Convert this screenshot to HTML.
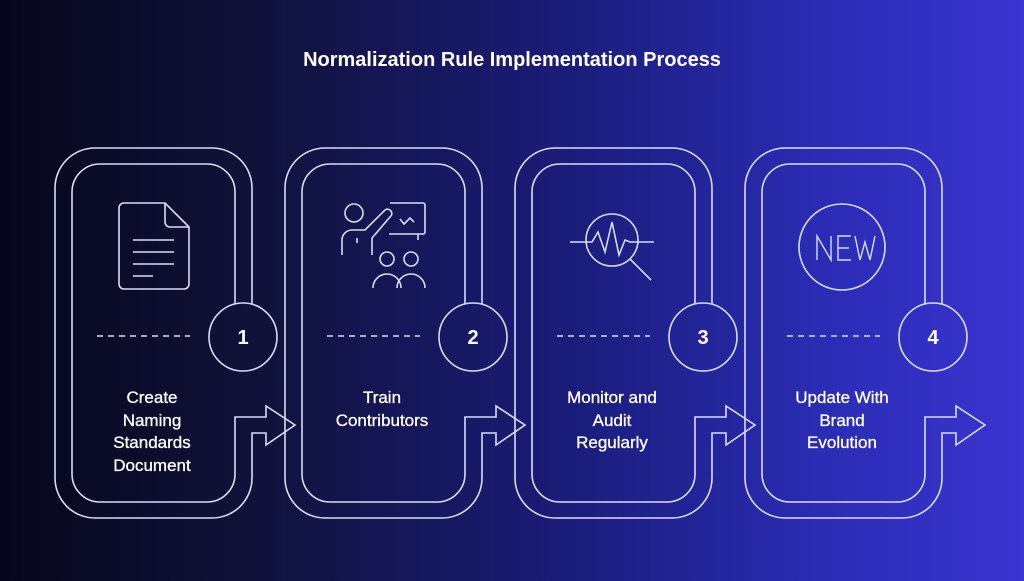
<!DOCTYPE html>
<html><head><meta charset="utf-8"><style>
html,body{margin:0;padding:0}
body{width:1024px;height:576px;overflow:hidden;background:linear-gradient(90deg,#06061a 0%,#10123a 25%,#1a1c78 55%,#2a2cb4 80%,#3a34d0 100%);font-family:"Liberation Sans",sans-serif}
</style></head><body>
<svg width="1024" height="576" viewBox="0 0 1024 576" xmlns="http://www.w3.org/2000/svg">
<defs>
<g id="card" fill="none" stroke="#d8dcf5" stroke-width="1.6">
<path d="M252,304 V188 A40,40 0 0 0 212,148 H95 A40,40 0 0 0 55,188 V478 A40,40 0 0 0 95,518 H212 A40,40 0 0 0 252,478 V433 H266 V445 L295,425 L266,406 V417 H235 V474 A28,28 0 0 1 207,502 H100 A28,28 0 0 1 72,474 V192 A28,28 0 0 1 100,164 H207 A28,28 0 0 1 235,192 V304"/>
<circle cx="243" cy="337" r="34"/>
<line x1="97" y1="336" x2="190" y2="336" stroke-dasharray="6,5" stroke-width="1.4"/>
</g>
</defs>
<text x="512" y="66" fill="#fff" font-size="20" font-weight="bold" text-anchor="middle">Normalization Rule Implementation Process</text>
<use href="#card"/>
<use href="#card" x="230"/>
<use href="#card" x="460"/>
<use href="#card" x="690"/>
<g fill="#fff" font-size="20" font-weight="bold" text-anchor="middle">
<text x="243" y="344">1</text><text x="473" y="344">2</text><text x="703" y="344">3</text><text x="933" y="344">4</text>
</g>
<g fill="#fff" font-size="17" text-anchor="middle" stroke="#fff" stroke-width="0.3">
<text x="152" y="403">Create</text><text x="152" y="426">Naming</text><text x="152" y="448">Standards</text><text x="152" y="471">Document</text>
<text x="382" y="403">Train</text><text x="382" y="426">Contributors</text>
<text x="612" y="403">Monitor and</text><text x="612" y="426">Audit</text><text x="612" y="448">Regularly</text>
<text x="842" y="403">Update With</text><text x="842" y="426">Brand</text><text x="842" y="448">Evolution</text>
</g>
<g fill="none" stroke="#d8dcf5" stroke-width="1.6">
<path d="M124,203 H165 L189,227 V284 A5,5 0 0 1 184,289 H124 A5,5 0 0 1 119,284 V208 A5,5 0 0 1 124,203 Z M165,203 V222 A5,5 0 0 0 170,227 H189"/>
<path d="M133,240 H174 M133,252 H174 M133,264 H174 M133,276 H153"/>
<circle cx="354" cy="213" r="9"/>
<path d="M342,255 V240 A10,10 0 0 1 352,230 H365 L385,210 A4,4 0 0 1 390,217 L372,238 V255 M357,238 V243"/>
<path d="M390,203 H423 A2,2 0 0 1 425,205 V232 A2,2 0 0 1 423,234 H389 M418,234 V240 M400,219 L404,224 L410,218 L414,222"/>
<circle cx="387" cy="259" r="7"/><circle cx="411" cy="259" r="7"/>
<path d="M373,288 A14,14 0 0 1 401,288 M397,288 A14,14 0 0 1 425,288"/>
<circle cx="612" cy="240" r="26"/>
<path d="M570,242 H592 L598,232 L605,252 L612,222 L619,255 L625,240 L630,242 H654 M630,259 L651,280"/>
<circle cx="842" cy="247" r="43"/>
<path d="M817,260 V236 L831,260 V236 M851,236 H838 V260 H851 M838,248 H849 M855,236 L860,260 L865,242 L870,260 L875,236" stroke-width="1.4"/>
</g>
</svg>
</body></html>
